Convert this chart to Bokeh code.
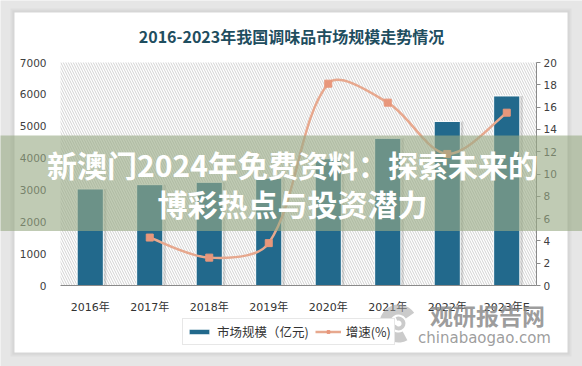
import math
from bokeh.plotting import figure
from bokeh.models import (Range1d, LinearAxis, FixedTicker, BoxAnnotation,
                          Label, Legend, LegendItem, ColumnDataSource)
from bokeh.transform import dodge
from bokeh.embed import file_html
from bokeh.resources import INLINE

# ---------------- data ----------------
years = ["2016年", "2017年", "2018年", "2019年", "2020年", "2021年", "2022年", "2023年E"]
market_size = [3030, 3165, 3240, 3370, 3980, 4620, 5150, 5950]
growth_years = ["2017年", "2018年", "2019年", "2020年", "2021年", "2022年", "2023年E"]
growth = [4.3, 2.5, 3.8, 18.1, 16.4, 11.8, 15.5]
left_ticks = [0, 1000, 2000, 3000, 4000, 5000, 6000, 7000]
right_ticks = [0, 2, 4, 6, 8, 10, 12, 14, 16, 18, 20]
title_text = "2016-2023年我国调味品市场规模走势情况"
banner_lines = ["新澳门2024年免费资料：探索未来的", "博彩热点与投资潜力"]
legend_labels = ["市场规模（亿元)", "增速(%)"]
watermark = ["观研报告网", "chinabaogao.com"]

# ---------------- layout helpers ----------------
W, H = 582, 366
PL, PR, PT, PB = 60, 46, 62, 81          # plot-area insets inside the canvas (px)
PW, PH = W - PL - PR, H - PT - PB
NCAT = len(years)
YMAX, GMAX = 7000.0, 20.0
xu = NCAT / PW          # x units per px
yu = YMAX / PH          # left-axis units per px
gu = GMAX / PH          # right-axis units per px


def py(page_y):  # canvas pixel y -> left-axis data value
    return YMAX - (page_y - PT) * yu


def px(page_x):  # canvas pixel x -> x data value
    return (page_x - PL) * xu


CJK = "Noto Sans CJK SC"
LAT = "DejaVu Sans, Noto Sans CJK SC"

p = figure(width=W, height=H,
           x_range=Range1d(-PL * xu, NCAT + PR * xu),
           y_range=Range1d(-PB * yu, YMAX + PT * yu),
           output_backend="svg", toolbar_location=None,
           min_border_left=0, min_border_right=0, min_border_top=0, min_border_bottom=0)
p.extra_y_ranges = {"g": Range1d(-PB * gu, GMAX + PT * gu)}
p.xgrid.visible = False
p.ygrid.visible = False
p.outline_line_color = None
p.background_fill_color = "#e6e6e6"
p.border_fill_color = "#e6e6e6"

# card (with soft shadow) and hatched plot background
for d, a in [(4, 0.10), (2, 0.12)]:
    p.add_layout(BoxAnnotation(left=px(14 - d), right=px(567 + d), top=py(12 - d), bottom=py(352 + d),
                               fill_color="#9a9a9a", fill_alpha=a, line_color=None, level="underlay"))
p.add_layout(BoxAnnotation(left=px(14), right=px(567), top=py(12), bottom=py(352),
                           fill_color="white", fill_alpha=1, line_color=None, level="underlay"))
p.add_layout(BoxAnnotation(left=0, right=NCAT, bottom=0, top=YMAX,
                           fill_color="white", fill_alpha=0, line_color=None,
                           hatch_pattern="\\", hatch_color="#d2d2d2", hatch_scale=5,
                           hatch_weight=1, level="underlay"))

# ---------------- bars ----------------
xc = [i + 0.5 for i in range(NCAT)]
src = ColumnDataSource(dict(x=xc, top=market_size))
p.vbar(x=dodge("x", 0.05), top="top", width=0.44, source=src,
       fill_color="black", fill_alpha=0.13, line_color=None)
bars = p.vbar(x="x", top="top", width=0.44, source=src, fill_color="#22698c",
              line_color="white", line_width=1)

# ---------------- smoothed growth line (bezier through data points) ----------------
gx = [years.index(y) + 0.5 for y in growth_years]
n = len(gx)
sxp, syp = 1 / xu, 1 / gu     # px per unit, for screen-space segment lengths


def seglen(i, j):
    return math.hypot((gx[j] - gx[i]) * sxp, (growth[j] - growth[i]) * syp)


x0, y0, x1, y1, cx0, cy0, cx1, cy1 = [], [], [], [], [], [], [], []
for i in range(n - 1):
    j = i + 1
    L = seglen(i, j)
    # tangent at i
    a, b = max(i - 1, 0), j
    Lp = seglen(a, i) if i > 0 else L
    f0 = (L / (Lp + L)) / 3 if i > 0 else 1 / 3
    tx0, ty0 = (gx[b] - gx[a]), (growth[b] - growth[a])
    if i == 0:
        tx0, ty0 = tx0 * 0.5, ty0 * 0.5
    # tangent at j
    c, d = i, min(j + 1, n - 1)
    Ln = seglen(j, d) if j < n - 1 else L
    f1 = (L / (L + Ln)) / 3 if j < n - 1 else 1 / 3
    tx1, ty1 = (gx[d] - gx[c]), (growth[d] - growth[c])
    if j == n - 1:
        tx1, ty1 = tx1 * 0.5, ty1 * 0.5
    x0.append(gx[i]); y0.append(growth[i])
    x1.append(gx[j]); y1.append(growth[j])
    cx0.append(gx[i] + tx0 * f0); cy0.append(growth[i] + ty0 * f0)
    cx1.append(gx[j] - tx1 * f1); cy1.append(growth[j] - ty1 * f1)

LINE_C = "#e7a88e"
MARK_C = "#e8977b"
p.bezier(x0=x0, y0=y0, x1=x1, y1=y1, cx0=cx0, cy0=cy0, cx1=cx1, cy1=cy1,
         y_range_name="g", line_color=LINE_C, line_width=2.5)
legend_line = p.line(x=[float("nan")], y=[float("nan")], y_range_name="g",
                     line_color=LINE_C, line_width=2.5)
pts = p.scatter(x=gx, y=growth, marker="square", size=7, y_range_name="g",
                fill_color=MARK_C, line_color=MARK_C)

# ---------------- axes ----------------
ya = p.yaxis[0]
ya.fixed_location = 0
ya.ticker = FixedTicker(ticks=left_ticks)
ya.axis_line_color = None
ya.major_tick_line_color = None
ya.minor_tick_line_color = None
ya.major_label_text_font = LAT
ya.major_label_text_font_size = "10.5px"
ya.major_label_text_color = "#404040"
ya.major_label_standoff = 8

ra = LinearAxis(y_range_name="g", ticker=FixedTicker(ticks=right_ticks),
                fixed_location=NCAT, bounds=(0, GMAX))
ra.axis_line_color = "#8a8a8a"
ra.major_tick_line_color = "#8a8a8a"
ra.major_tick_out = 4
ra.major_tick_in = 0
ra.minor_tick_line_color = None
ra.major_label_text_font = LAT
ra.major_label_text_font_size = "10.5px"
ra.major_label_text_color = "#404040"
ra.major_label_standoff = 3
p.add_layout(ra, "right")

xa = p.xaxis[0]
xa.fixed_location = 0
xa.bounds = (0, NCAT)
xa.ticker = FixedTicker(ticks=xc)
xa.major_label_overrides = {x: lab for x, lab in zip(xc, years)}
xa.axis_line_color = "#8a8a8a"
xa.major_tick_line_color = None
xa.minor_tick_line_color = None
xa.major_label_text_font = LAT
xa.major_label_text_font_size = "11px"
xa.major_label_text_color = "#333333"
xa.major_label_standoff = 9

# ---------------- legend ----------------
legend = Legend(items=[LegendItem(label=legend_labels[0], renderers=[bars]),
                       LegendItem(label=legend_labels[1], renderers=[legend_line, pts])],
                location=(182, 21), orientation="horizontal",
                border_line_color="#d0d0d0", background_fill_color="white", background_fill_alpha=1,
                label_text_font=CJK, label_text_font_size="12.5px", label_text_color="#333333",
                glyph_width=26, glyph_height=7, label_height=18, padding=3, margin=0,
                spacing=6, label_standoff=5)
p.add_layout(legend, "center")

# ---------------- title ----------------
p.add_layout(Label(x=px(291), y=py(35), text=title_text, text_align="center",
                   text_baseline="middle", text_font=CJK, text_font_size="16px",
                   text_font_style="bold", text_color="#1f4e5f"))

# ---------------- watermark ----------------
p.annular_wedge(x=[px(398)], y=[py(323)], inner_radius=9, outer_radius=19,
                inner_radius_units="screen", outer_radius_units="screen",
                start_angle=0.6, end_angle=5.2, fill_color="#a0a0a0", fill_alpha=0.55,
                line_color=None, level="overlay")
p.annular_wedge(x=[px(398)], y=[py(323)], inner_radius=3, outer_radius=7,
                inner_radius_units="screen", outer_radius_units="screen",
                start_angle=3.6, end_angle=2.0, fill_color="#a0a0a0", fill_alpha=0.55,
                line_color=None, level="overlay")
p.add_layout(Label(x=px(487), y=py(314), text=watermark[0], text_align="center",
                   text_baseline="middle", text_font=CJK, text_font_size="23px",
                   text_font_style="bold", text_color="#8c8c8c", text_alpha=0.85, level="overlay"))
p.add_layout(Label(x=px(484), y=py(337), text=watermark[1], text_align="center",
                   text_baseline="middle", text_font="DejaVu Sans", text_font_size="15px",
                   text_color="#8c8c8c", text_alpha=0.85, level="overlay"))

# ---------------- banner overlay ----------------
p.add_layout(BoxAnnotation(left=px(-10), right=px(600), top=py(135), bottom=py(230.5),
                           fill_color="#9aab86", fill_alpha=0.62, line_color=None, level="overlay"))
p.add_layout(Label(x=px(292), y=py(163), text=banner_lines[0], text_align="center",
                   text_baseline="middle", text_font=CJK, text_font_size="30px",
                   text_font_style="bold", text_color="white", level="overlay"))
p.add_layout(Label(x=px(292), y=py(202.5), text=banner_lines[1], text_align="center",
                   text_baseline="middle", text_font=CJK, text_font_size="30px",
                   text_font_style="bold", text_color="white", level="overlay"))

open("out.html", "w").write(file_html(p, INLINE))
